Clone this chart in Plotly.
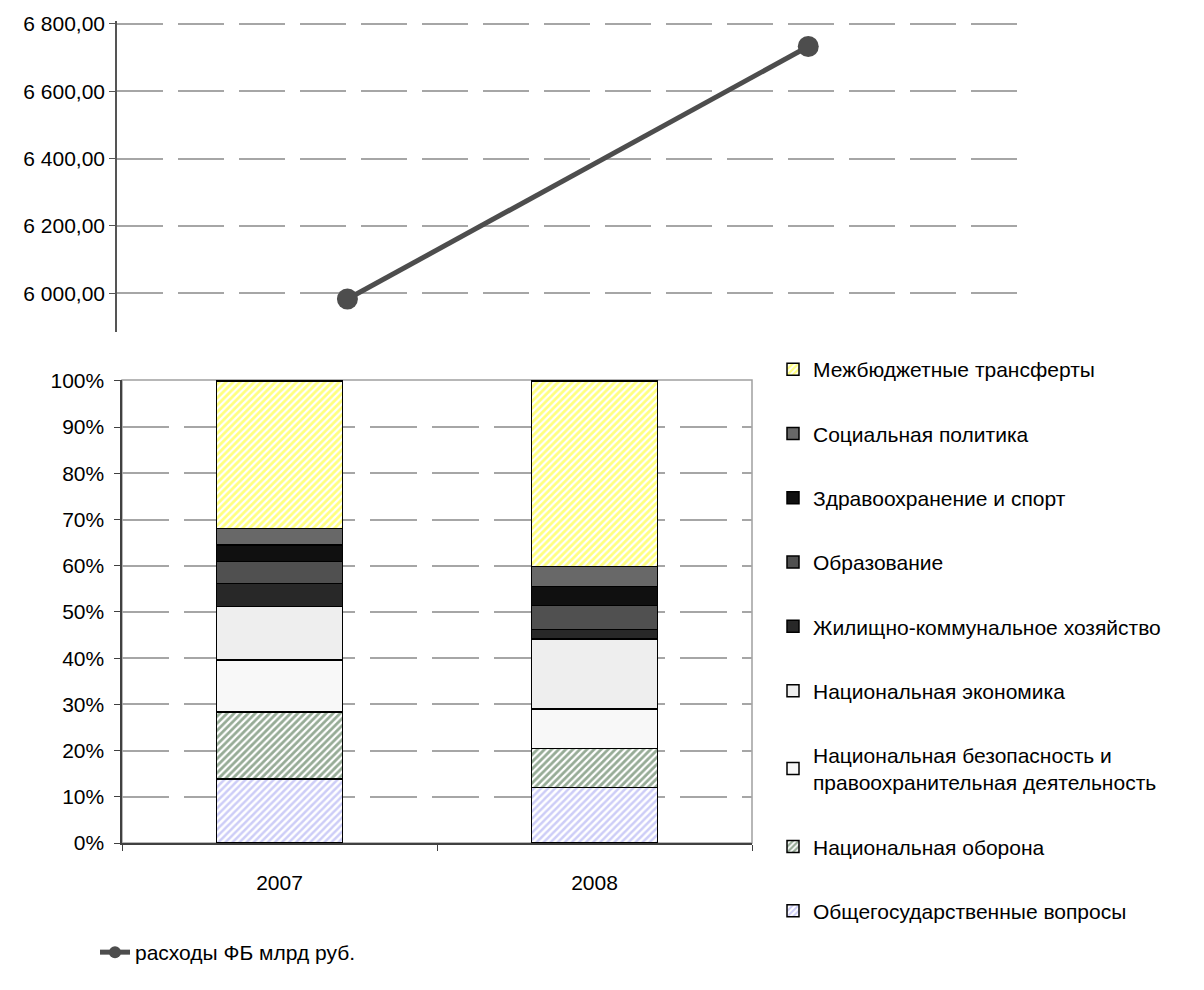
import plotly.graph_objects as go

# ---------------- data ----------------
years = ["2007", "2008"]
spending = [5983.0, 6733.0]  # расходы ФБ млрд руб.

categories = [
    "Общегосударственные вопросы",
    "Национальная оборона",
    "Национальная безопасность и<br>правоохранительная деятельность",
    "Национальная экономика",
    "Жилищно-коммунальное хозяйство",
    "Образование",
    "Здравоохранение и спорт",
    "Социальная политика",
    "Межбюджетные трансферты",
]
share_2007 = [13.9, 14.5, 11.2, 11.6, 5.0, 4.7, 3.6, 3.6, 31.9]
share_2008 = [12.0, 8.4, 8.6, 15.1, 2.1, 5.2, 4.1, 4.3, 40.2]

line_name = "расходы ФБ млрд руб."
pct_ticks = [0, 10, 20, 30, 40, 50, 60, 70, 80, 90, 100]
pct_labels = [f"{v}%" for v in pct_ticks]
top_ticks = [6000, 6200, 6400, 6600, 6800]

# ---------------- styles ----------------
styles = [
    dict(color="white", pattern=dict(shape="/", fgcolor="#9C9CF0", bgcolor="white", size=5, solidity=0.5)),
    dict(color="white", pattern=dict(shape="/", fgcolor="#2E582E", bgcolor="white", size=5, solidity=0.55)),
    dict(color="#F8F8F8"),
    dict(color="#EEEEEE"),
    dict(color="#282828"),
    dict(color="#505050"),
    dict(color="#101010"),
    dict(color="#686868"),
    dict(color="white", pattern=dict(shape="/", fgcolor="#FFFF00", bgcolor="white", size=5, solidity=0.55)),
]

FONT = "Liberation Sans, Arial, sans-serif"
FS = 21
W, H = 1204, 990
NBSP = "\u00a0"

fig = go.Figure()

# top line chart
fig.add_trace(go.Scatter(
    x=[0, 1], y=spending, mode="lines+markers", name=line_name,
    line=dict(color="#4D4D4D", width=5),
    marker=dict(color="#4D4D4D", size=21),
    xaxis="x", yaxis="y", legend="legend2", hoverinfo="skip",
))

# stacked bars
n = len(categories)
for i, cat in enumerate(categories):
    st = styles[i]
    marker = dict(color=st["color"], line=dict(color="black", width=1.5))
    if "pattern" in st:
        marker["pattern"] = st["pattern"]
    fig.add_trace(go.Bar(
        x=years, y=[share_2007[i], share_2008[i]], name=cat,
        marker=marker, width=0.4, xaxis="x2", yaxis="y2",
        legendgroup=f"g{i}", legendrank=100 + (n - i),
    ))

fig.update_layout(
    width=W, height=H,
    margin=dict(l=0, r=0, t=0, b=0, pad=0),
    paper_bgcolor="white", plot_bgcolor="white",
    font=dict(family=FONT, size=FS, color="black"),
    separators=", ",
    barmode="stack",
    bargap=0.6,
    xaxis=dict(
        domain=[117 / W, 1023 / W], range=[-0.5, 1.466], visible=False,
        fixedrange=True, automargin=False,
    ),
    yaxis=dict(
        domain=[1 - 332 / H, 1 - 20.6 / H], range=[5885, 6810],
        tickvals=top_ticks, tickformat=",.2f", ticksuffix=NBSP, automargin=False,
        showline=True, linecolor="#555555", linewidth=1.5,
        ticks="outside", ticklen=6, tickcolor="#555555",
        showgrid=True, gridcolor="#A6A6A6", gridwidth=1.5, griddash="46px,15px",
        zeroline=False,
    ),
    xaxis2=dict(
        domain=[122 / W, 752 / W], type="category", range=[-0.5, 1.5],
        anchor="y2", showline=True, linecolor="#404040", linewidth=1.5,
        ticks="outside", ticklen=6, tickcolor="#404040", tickson="boundaries",
        showgrid=False, automargin=False, ticklabelstandoff=20,
    ),
    yaxis2=dict(
        domain=[1 - 843 / H, 1 - 380 / H], range=[0, 100.2], anchor="x2",
        tickvals=pct_ticks, ticktext=[t + NBSP for t in pct_labels], automargin=False,
        showline=True, linecolor="#404040", linewidth=1.5,
        ticks="outside", ticklen=6, tickcolor="#404040",
        showgrid=True, gridcolor="#A6A6A6", gridwidth=1.5, griddash="47px,15px",
        zeroline=False,
    ),
    legend=dict(
        x=773 / W, y=1 - 349 / H, xanchor="left", yanchor="top",
        traceorder="grouped", tracegroupgap=34,
        font=dict(family=FONT, size=FS), bgcolor="rgba(0,0,0,0)",
    ),
    legend2=dict(
        x=95 / W, y=1 - 932 / H, xanchor="left", yanchor="top",
        font=dict(family=FONT, size=FS), bgcolor="rgba(0,0,0,0)",
        itemsizing="constant",
    ),
    shapes=[dict(
        type="rect", xref="x2 domain", yref="y2 domain", x0=0, x1=1, y0=0, y1=1,
        line=dict(color="#A0A0A0", width=1.5), layer="below",
    )],
)

fig.write_html("out.html", config={"displayModeBar": False},
               post_script="document.body.style.margin='0';")
